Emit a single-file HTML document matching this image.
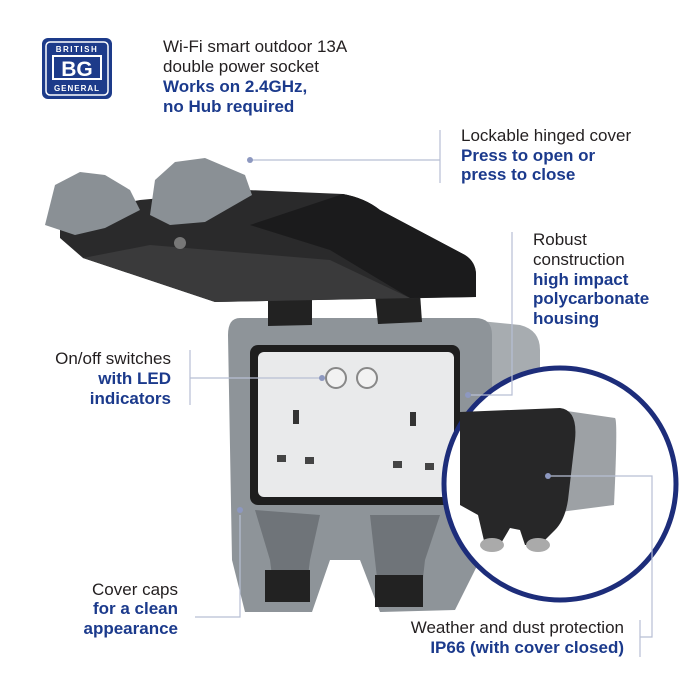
<!DOCTYPE html>
<html><head><meta charset="utf-8"><style>
body{margin:0;width:700px;height:700px;background:#fff;overflow:hidden;font-family:"Liberation Sans",Arial,sans-serif}
svg{display:block}
.t{font-size:17px;fill:#231f20}
.b{font-size:17px;fill:#1b3a8c;font-weight:bold}
</style></head><body>
<svg width="700" height="700" viewBox="0 0 700 700">
<!-- logo -->
<rect x="42" y="38" width="70" height="61" rx="6" fill="#1d3b8a"/>
<rect x="46" y="42" width="62" height="53" rx="4" fill="none" stroke="#fff" stroke-width="1.5"/>
<text x="77" y="52" font-size="8" fill="#fff" text-anchor="middle" font-weight="bold" letter-spacing="1.5">BRITISH</text>
<rect x="53" y="56" width="48" height="23" fill="none" stroke="#fff" stroke-width="2"/>
<text x="77" y="76" font-size="21" fill="#fff" text-anchor="middle" font-weight="bold">BG</text>
<text x="77" y="91" font-size="8" fill="#fff" text-anchor="middle" font-weight="bold" letter-spacing="1">GENERAL</text>
<!-- texts -->
<text class="t" x="163" y="52">Wi-Fi smart outdoor 13A</text>
<text class="t" x="163" y="72">double power socket</text>
<text class="b" x="163" y="92">Works on 2.4GHz,</text>
<text class="b" x="163" y="112">no Hub required</text>
<text class="t" x="461" y="141">Lockable hinged cover</text>
<text class="b" x="461" y="161">Press to open or</text>
<text class="b" x="461" y="180">press to close</text>
<text class="t" x="533" y="245">Robust</text>
<text class="t" x="533" y="265">construction</text>
<text class="b" x="533" y="285">high impact</text>
<text class="b" x="533" y="304">polycarbonate</text>
<text class="b" x="533" y="324">housing</text>
<text class="t" x="171" y="364" text-anchor="end">On/off switches</text>
<text class="b" x="171" y="384" text-anchor="end">with LED</text>
<text class="b" x="171" y="404" text-anchor="end">indicators</text>
<text class="t" x="178" y="595" text-anchor="end">Cover caps</text>
<text class="b" x="178" y="614" text-anchor="end">for a clean</text>
<text class="b" x="178" y="634" text-anchor="end">appearance</text>
<text class="t" x="624" y="633" text-anchor="end">Weather and dust protection</text>
<text class="b" x="624" y="653" text-anchor="end">IP66 (with cover closed)</text>
<!-- socket body -->
<path d="M470 320 L520 325 Q540 330 540 350 L540 440 L490 440 L490 340Z" fill="#a7acb0"/>
<path d="M240 318 L475 318 Q492 318 492 335 L492 440 L480 560 L455 610 L380 612 L360 560 L330 560 L312 612 L245 612 L232 560 L228 335 Q228 318 240 318Z" fill="#8e9499"/>
<rect x="250" y="345" width="210" height="160" rx="8" fill="#1e1e1e"/>
<rect x="258" y="352" width="196" height="145" rx="6" fill="#e9eaeb"/>
<circle cx="336" cy="378" r="10" fill="#f2f2f2" stroke="#888" stroke-width="2"/>
<circle cx="367" cy="378" r="10" fill="#f2f2f2" stroke="#888" stroke-width="2"/>
<rect x="293" y="410" width="6" height="14" fill="#333"/><rect x="277" y="455" width="9" height="7" fill="#444"/><rect x="305" y="457" width="9" height="7" fill="#444"/>
<rect x="410" y="412" width="6" height="14" fill="#333"/><rect x="393" y="461" width="9" height="7" fill="#444"/><rect x="425" y="463" width="9" height="7" fill="#444"/>
<path d="M255 510 L270 560 L275 600 L305 600 L310 560 L320 515Z" fill="#6f7479"/>
<path d="M370 515 L375 560 L380 605 L420 605 L425 560 L440 515Z" fill="#6f7479"/>
<rect x="265" y="570" width="45" height="32" fill="#222"/>
<rect x="375" y="575" width="48" height="32" fill="#222"/>
<path d="M268 298 L312 298 L312 325 L268 326Z" fill="#222"/>
<path d="M375 295 L420 293 L422 322 L378 324Z" fill="#222"/>
<!-- lid -->
<path d="M60 215 L140 200 L247 190 L343 194 Q365 198 380 210 L465 255 Q476 262 476 275 L476 297 L215 302 L83 258 L60 238Z" fill="#2a2a2b"/>
<path d="M343 194 Q365 198 380 210 L465 255 Q476 262 476 275 L476 297 L410 298 L330 250 L250 225 Z" fill="#1b1b1c"/>
<path d="M83 258 L215 302 L410 298 L330 260 L150 245Z" fill="#3a3a3b"/>
<path d="M45 225 L55 185 L80 172 L105 175 L130 190 L140 210 L105 228 L75 235Z" fill="#8a9095"/>
<path d="M150 215 L155 180 L175 162 L205 158 L245 175 L252 195 L205 222 L170 225Z" fill="#8a9095"/>
<circle cx="180" cy="243" r="6" fill="#777"/>
<!-- inset circle -->
<circle cx="560" cy="484" r="116" fill="#fff" stroke="#1d2d7a" stroke-width="5"/>
<path d="M560 410 L615 418 Q618 420 614 505 L560 512Z" fill="#9da1a5"/>
<path d="M460 412 L560 408 Q578 410 575 440 L568 500 Q565 520 555 530 L540 545 L525 545 L520 530 L510 528 L500 545 L485 545 L478 515 L460 505Z" fill="#272728"/>
<ellipse cx="492" cy="545" rx="12" ry="7" fill="#aaa"/>
<ellipse cx="538" cy="545" rx="12" ry="7" fill="#aaa"/>
<!-- leader lines -->
<g stroke="#b7bfd4" stroke-width="1.2" fill="none">
<path d="M440 130 L440 183 M250 160 L440 160"/>
<path d="M512 232 L512 395 L468 395"/>
<path d="M190 350 L190 405 M190 378 L322 378"/>
<path d="M240 515 L240 617 L195 617"/>
<path d="M548 476 L652 476 L652 637 L640 637 M640 620 L640 657"/>
</g>
<g fill="#8d98c0"><circle cx="250" cy="160" r="3"/><circle cx="468" cy="395" r="3"/><circle cx="322" cy="378" r="3"/><circle cx="240" cy="510" r="3"/><circle cx="548" cy="476" r="3"/></g>
</svg>
</body></html>
